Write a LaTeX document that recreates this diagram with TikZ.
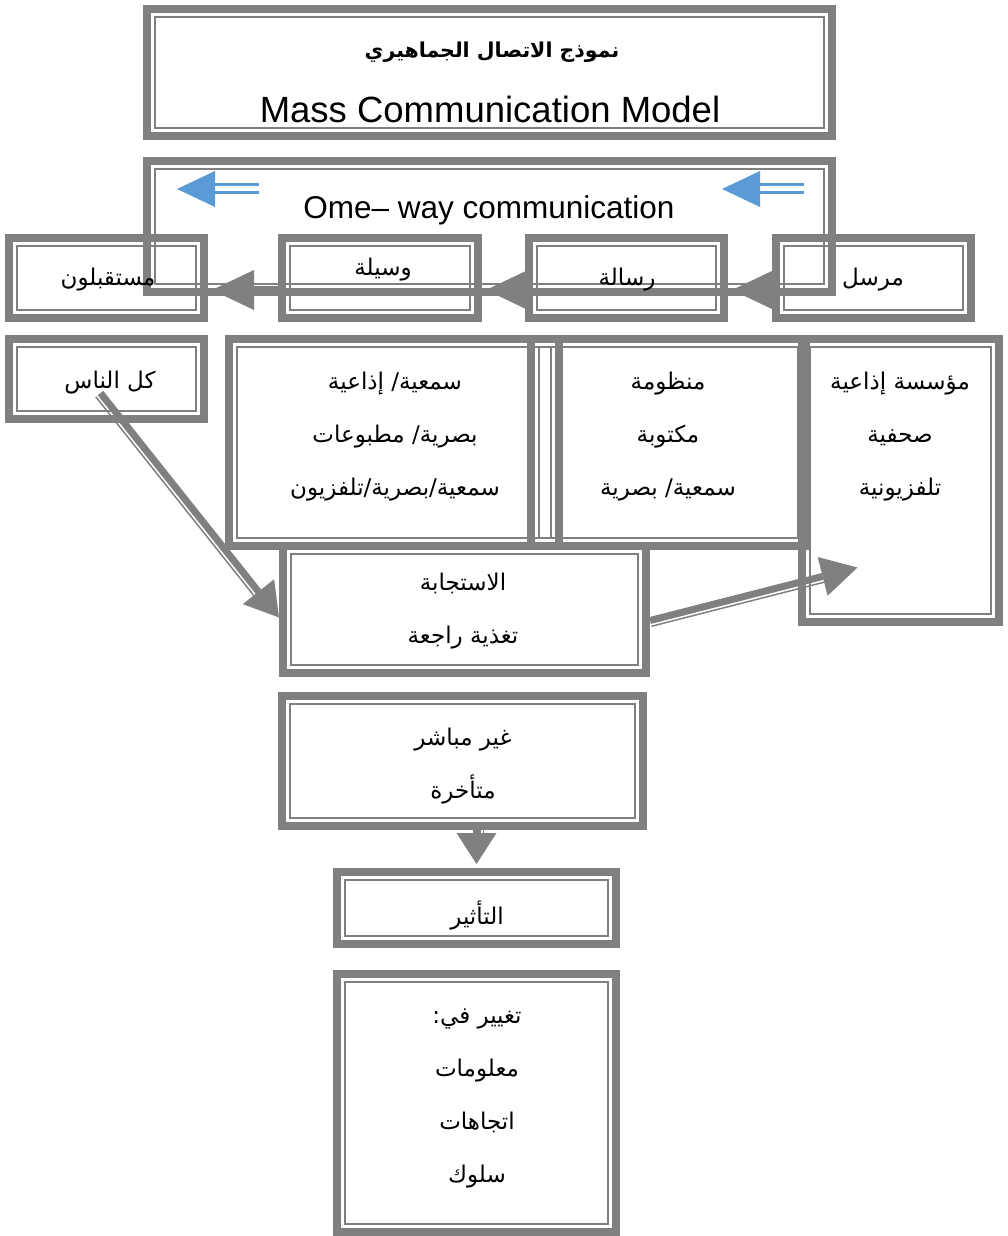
\documentclass[tikz,border=0pt]{standalone}
\usepackage{fontspec}
\setmainfont{Liberation Sans}
\newfontfamily\arabicfont[Script=Arabic]{DejaVu Sans}
\TeXXeTstate=1
\usetikzlibrary{calc}
\usetikzlibrary{fit}
\usetikzlibrary{arrows.meta}

\definecolor{framegray}{HTML}{808080}
\definecolor{flowblue}{HTML}{5B9BD5}
\newcommand{\ar}[1]{\beginR#1\endR}

\tikzset{
  dblframe/.style={draw=framegray, line width=8pt, inner sep=0pt,
    path picture={\draw[framegray, line width=1.5pt]
      ([shift={(8pt,-8pt)}]path picture bounding box.north west) rectangle
      ([shift={(-8pt,8pt)}]path picture bounding box.south east);}},
  artext/.style={font=\arabicfont\fontsize{23}{53}\selectfont, align=center, inner sep=0pt},
  entext/.style={font=\fontsize{31.5}{36}\selectfont, inner sep=0pt},
  flow/.style={framegray, line width=8pt, -{Triangle[length=#1, width=40pt, line width=0pt]}},
  flow/.default=42pt,
  rail/.style={framegray, line width=1.5pt}
}

\begin{document}
\begin{tikzpicture}[x=1pt, y=-1pt]
\useasboundingbox (0,0) rectangle (1008,1236);

% Title and one-way frames
\node[dblframe, fit={(147,9) (832,136)}] (title) {};
\node[artext, font=\arabicfont\bfseries\fontsize{20.5}{53}\selectfont] (titlear) at (492,52) {\ar{نموذج الاتصال الجماهيري}};
\node[entext, font=\fontsize{36.5}{40}\selectfont, anchor=base] (titleen) at (490,122) {Mass Communication Model};

\node[dblframe, fit={(147,161) (832,292)}] (oneway) {};
\node[entext, anchor=base] (onewaytxt) at (489,218) {Ome– way communication};

% Blue direction marks
\coordinate (bluetipL) at (177,189);
\coordinate (bluetipR) at (722,189);
\foreach \t in {bluetipL, bluetipR} {
  \fill[flowblue] (\t) -- ++(38,-18) -- ++(0,36) -- cycle;
  \draw[flowblue, line width=3pt] ($(\t)+(37,-4.5)$) -- ++(45,0);
  \draw[flowblue, line width=3pt] ($(\t)+(37,3.5)$) -- ++(45,0);
}

% Row of the model
\node[dblframe, fit={(9,238) (204,318)}] (recv) {};
\node[dblframe, fit={(282,238) (478,318)}] (medium) {};
\node[dblframe, fit={(529,238) (724,318)}] (message) {};
\node[dblframe, fit={(776,238) (971,318)}] (sender) {};
\node[artext] (recvtxt) at (108,280) {\ar{مستقبلون}};
\node[artext] (mediumtxt) at (383,270) {\ar{وسيلة}};
\node[artext] (messagetxt) at (627,280) {\ar{رسالة}};
\node[artext] (sendertxt) at (873,280) {\ar{مرسل}};

\draw[flow] ([yshift=-12pt]sender.west) -- ([xshift=4pt,yshift=-12pt]message.east);
\draw[flow] ([yshift=-12pt]message.west) -- ([xshift=4pt,yshift=-12pt]medium.east);
\draw[flow] ([yshift=-12pt]medium.west) -- ([xshift=4pt,yshift=-12pt]recv.east);

% Details under each element
\node[dblframe, fit={(9,339) (204,419)}] (people) {};
\node[artext] (peopletxt) at (110,383) {\ar{كل الناس}};

\node[dblframe, fit={(229,339) (559,546)}] (mediumtypes) {};
\node[artext] (mediumtypestxt) at (395,437) {\ar{سمعية/ إذاعية}\\\ar{بصرية/ مطبوعات}\\\ar{سمعية/بصرية/تلفزيون}};

\node[dblframe, fit={(531,339) (806,546)}] (messagetypes) {};
\node[artext] (messagetypestxt) at (668,437) {\ar{منظومة}\\\ar{مكتوبة}\\\ar{سمعية/ بصرية}};

\node[dblframe, fit={(802,339) (999,622)}] (sendertypes) {};
\node[artext] (sendertypestxt) at (900,437) {\ar{مؤسسة إذاعية}\\\ar{صحفية}\\\ar{تلفزيونية}};

% Feedback and effect
\node[dblframe, fit={(283,546) (646,673)}] (feedback) {};
\node[artext] (feedbacktxt) at (463,611) {\ar{الاستجابة}\\\ar{تغذية راجعة}};

\node[dblframe, fit={(282,696) (643,826)}] (indirect) {};
\node[artext] (indirecttxt) at (463,766) {\ar{غير مباشر}\\\ar{متأخرة}};

\node[dblframe, fit={(337,872) (616,944)}] (effect) {};
\node[artext] (effecttxt) at (477,915) {\ar{التأثير}};

\node[dblframe, fit={(337,974) (616,1232)}] (change) {};
\node[artext] (changetxt) at (477,1098) {\ar{تغيير في:}\\\ar{معلومات}\\\ar{اتجاهات}\\\ar{سلوك}};

% Connectors
\coordinate (peoplefoot) at ($(people.center)+(-6,14)$);
\coordinate (sendertip) at ($(sendertypes.center)+(-43,87)$);

\draw[flow=33pt, line width=7pt] (peoplefoot) -- ([yshift=-8pt]feedback.west);
\draw[rail, shorten >=33pt, transform canvas={xshift=-4.7pt,yshift=-3.8pt}] (peoplefoot) -- ([yshift=-8pt]feedback.west);

\draw[flow=36pt, line width=7pt] ([yshift=-11pt]feedback.east) -- (sendertip);
\draw[rail, shorten >=36pt, transform canvas={xshift=1.4pt,yshift=-5.8pt}] ([yshift=-11pt]feedback.east) -- (sendertip);

\draw[flow=31pt] (indirect.south -| effect.north) -- ([yshift=4pt]effect.north);
\draw[rail, shorten >=31pt, transform canvas={xshift=7pt}] (indirect.south -| effect.north) -- ([yshift=4pt]effect.north);

\end{tikzpicture}
\end{document}
